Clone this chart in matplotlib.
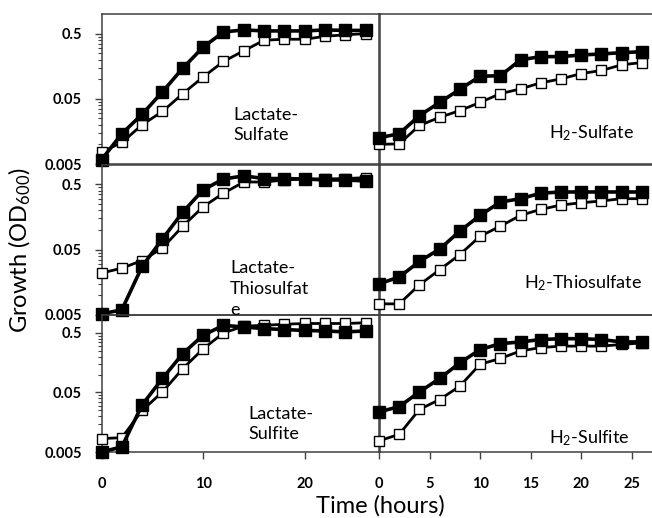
import matplotlib
matplotlib.use("Agg")
import matplotlib.pyplot as plt
from matplotlib.ticker import FixedLocator, NullFormatter, NullLocator

plt.rcParams['font.family'] = ['Lato', 'DejaVu Sans']
plt.rcParams['mathtext.fontset'] = 'custom'
plt.rcParams['mathtext.rm'] = 'Lato'
plt.rcParams['mathtext.it'] = 'Lato:italic'
plt.rcParams['mathtext.bf'] = 'Lato:bold'

hours = [0, 2, 4, 6, 8, 10, 12, 14, 16, 18, 20, 22, 24, 26]

lact_sulfate_filled = [0.0058, 0.0146, 0.029, 0.064, 0.148, 0.31, 0.53, 0.57, 0.55, 0.55, 0.55, 0.57, 0.56, 0.56]
lact_sulfate_open = [0.0076, 0.0107, 0.020, 0.032, 0.060, 0.108, 0.187, 0.273, 0.396, 0.41, 0.41, 0.455, 0.48, 0.50]

h2_sulfate_filled = [0.0126, 0.0146, 0.0276, 0.044, 0.070, 0.111, 0.113, 0.198, 0.222, 0.222, 0.235, 0.244, 0.255, 0.264]
h2_sulfate_open = [0.010, 0.0102, 0.0195, 0.026, 0.033, 0.044, 0.060, 0.071, 0.088, 0.101, 0.122, 0.136, 0.166, 0.18]

lact_thio_filled = [0.0052, 0.006, 0.0277, 0.073, 0.187, 0.41, 0.60, 0.67, 0.61, 0.61, 0.60, 0.58, 0.58, 0.56]
lact_thio_open = [0.0219, 0.026, 0.034, 0.053, 0.114, 0.226, 0.364, 0.54, 0.54, 0.58, 0.60, 0.60, 0.61, 0.63]

h2_thio_filled = [0.015, 0.019, 0.033, 0.051, 0.096, 0.167, 0.267, 0.30, 0.364, 0.38, 0.38, 0.38, 0.38, 0.38]
h2_thio_open = [0.0074, 0.0074, 0.0145, 0.0246, 0.042, 0.080, 0.114, 0.167, 0.206, 0.24, 0.26, 0.277, 0.30, 0.30]

lact_sulfite_filled = [0.005, 0.0061, 0.031, 0.086, 0.225, 0.457, 0.67, 0.63, 0.59, 0.57, 0.55, 0.54, 0.52, 0.54]
lact_sulfite_open = [0.0084, 0.0087, 0.025, 0.051, 0.126, 0.27, 0.50, 0.65, 0.67, 0.70, 0.72, 0.72, 0.72, 0.74]

h2_sulfite_filled = [0.0235, 0.029, 0.051, 0.086, 0.157, 0.263, 0.33, 0.353, 0.387, 0.40, 0.40, 0.387, 0.353, 0.353]
h2_sulfite_open = [0.0077, 0.0099, 0.026, 0.038, 0.064, 0.149, 0.186, 0.249, 0.284, 0.30, 0.30, 0.30, 0.32, 0.34]

panel_labels = ["Lactate-\nSulfate", "H$_2$-Sulfate",
                "Lactate-\nThiosulfat\ne", "H$_2$-Thiosulfate",
                "Lactate-\nSulfite", "H$_2$-Sulfite"]

y_ticks = [0.005, 0.05, 0.5]
y_tick_labels = ["0.005", "0.05", "0.5"]
left_x_ticks = [0, 10, 20]
right_x_ticks = [0, 5, 10, 15, 20, 25]

W, H = 652, 518
fig = plt.figure(figsize=(W / 100, H / 100), dpi=100)


def px_axes(x0, y0, x1, y1):
    # axes from pixel box (top-left origin)
    return fig.add_axes([x0 / W, 1 - y1 / H, (x1 - x0) / W, (y1 - y0) / H])


rows = [(14, 164), (164.5, 315), (315, 452)]
series = [
    (lact_sulfate_filled, lact_sulfate_open, h2_sulfate_filled, h2_sulfate_open),
    (lact_thio_filled, lact_thio_open, h2_thio_filled, h2_thio_open),
    (lact_sulfite_filled, lact_sulfite_open, h2_sulfite_filled, h2_sulfite_open),
]
# label positions in pixels (left x, center y)
label_pos = [(233, 125), (549, 133), (230, 289), (524, 283), (248, 424), (549, 438)]

spine_col = '#404040'
minor = [k * 0.005 for k in range(2, 10)] + [k * 0.05 for k in range(2, 10)]

for r, (ytop, ybot) in enumerate(rows):
    lf, lo, rf, ro = series[r]
    axl = px_axes(101.5, ytop, 380, ybot)
    axr = px_axes(379, ytop, 652, ybot)
    for ax, f, o, xmax in [(axl, lf, lo, 27.4), (axr, rf, ro, 27.0)]:
        ax.set_yscale('log')
        ax.set_ylim(0.005, 1.0)
        ax.set_xlim(0, xmax)
        ax.plot(hours, o, color='black', lw=2, marker='s', ms=7.5,
                mfc='white', mec='black', mew=1, clip_on=False, zorder=3)
        ax.plot(hours, f, color='black', lw=2.6, marker='s', ms=8,
                mfc='black', mec='black', clip_on=False, zorder=4)
        for s in ax.spines.values():
            s.set_color(spine_col)
            s.set_linewidth(1.1)
        ax.tick_params(which='both', direction='out', color=spine_col)
        ax.tick_params(which='major', length=5, width=1)
        ax.tick_params(which='minor', length=3, width=0.8)
        ax.patch.set_alpha(0)

    axl.set_yticks(y_ticks)
    axl.set_yticklabels(y_tick_labels, fontsize=10.5, fontweight='bold')
    axl.yaxis.set_minor_locator(FixedLocator(minor))
    axl.yaxis.set_minor_formatter(NullFormatter())
    axl.tick_params(axis='y', pad=9)

    axr.yaxis.set_major_locator(NullLocator())
    axr.yaxis.set_minor_locator(NullLocator())
    axr.spines['right'].set_visible(False)

    if r == 2:
        axl.set_xticks(left_x_ticks)
        axr.set_xticks(right_x_ticks)
        for ax in (axl, axr):
            ax.set_xticklabels([str(v) for v in ax.get_xticks()], fontsize=10.5, fontweight='bold')
            ax.tick_params(axis='x', pad=13)
    else:
        for ax in (axl, axr):
            ax.xaxis.set_major_locator(NullLocator())

    for c in range(2):
        lx, ly = label_pos[2 * r + c]
        fig.text(lx / W, 1 - ly / H, panel_labels[2 * r + c], fontsize=13,
                 ha='left', va='center', linespacing=1.35)

fig.text(380 / W, 1 - 506 / H, "Time (hours)", fontsize=17, ha='center', va='center')
fig.text(20 / W, 1 - 250 / H, "Growth (OD$_{600}$)", fontsize=17, ha='center',
         va='center', rotation=90)

fig.savefig('out.png', dpi=100)
